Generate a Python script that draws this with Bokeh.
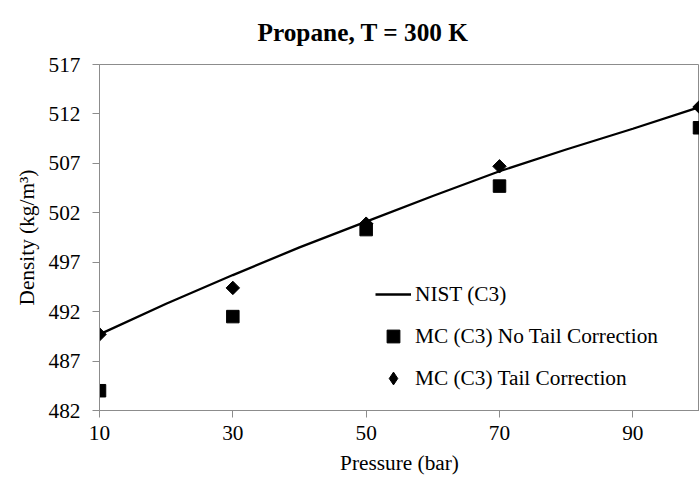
import numpy as np
from bokeh.plotting import figure
from bokeh.models import Range1d, FixedTicker, Legend, LegendItem
from bokeh.embed import file_html
from bokeh.resources import INLINE

# NIST reference curve (pressure in bar, density in kg/m3)
nist_p = [10, 20, 30, 40, 50, 60, 70, 80, 90, 100]
nist_rho = [489.7, 492.8, 495.7, 498.5, 501.1, 503.7, 506.2, 508.4, 510.5, 512.7]

# Monte Carlo results
mc_p = [10, 30, 50, 70, 100]
mc_no_tail = [484.0, 491.5, 500.3, 504.7, 510.6]
mc_tail = [489.7, 494.4, 500.9, 506.7, 512.7]

x_ticks = [10, 30, 50, 70, 90]
y_ticks = [482, 487, 492, 497, 502, 507, 512, 517]

TITLE = "Propane, T = 300 K"
FONT = "Liberation Serif"
GRAY = "#8c8c8c"
FS = "21.3px"

p = figure(width=699, height=478, output_backend="svg", toolbar_location=None,
           x_range=Range1d(10, 100), y_range=Range1d(482, 517),
           min_border_left=99, min_border_right=0, min_border_top=64, min_border_bottom=68)

p.title.text = TITLE
p.title.text_font = FONT
p.title.text_font_size = "25.3px"
p.title.text_font_style = "bold"
p.title.align = "left"
p.title.offset = 158
p.title.vertical_align = "top"
p.title.standoff = 34
p.title.text_color = "black"

p.xgrid.visible = False
p.ygrid.visible = False
p.outline_line_color = GRAY
p.outline_line_width = 1

for ax in (p.xaxis[0], p.yaxis[0]):
    ax.axis_line_color = GRAY
    ax.major_tick_line_color = GRAY
    ax.minor_tick_line_color = None
    ax.major_tick_in = 0
    ax.major_tick_out = 7
    ax.major_label_text_font = FONT
    ax.major_label_text_font_size = FS
    ax.major_label_text_color = "black"
    ax.axis_label_text_font = FONT
    ax.axis_label_text_font_size = FS
    ax.axis_label_text_font_style = "normal"
    ax.axis_label_text_color = "black"

p.xaxis[0].ticker = FixedTicker(ticks=x_ticks)
p.yaxis[0].ticker = FixedTicker(ticks=y_ticks)
p.xaxis[0].axis_label = "Pressure (bar)"
p.yaxis[0].axis_label = "Density (kg/m³)"
p.xaxis[0].major_label_standoff = 8
p.yaxis[0].major_label_standoff = 12
p.xaxis[0].axis_label_standoff = 8
p.yaxis[0].axis_label_standoff = 7

r_line = p.line(nist_p, nist_rho, line_color="black", line_width=2.3)
# diamond renderer supplies the legend swatch; it lies fully under the rotated squares
r_tail_key = p.scatter(mc_p, mc_tail, marker="diamond", size=12,
                       fill_color="black", line_color="black")
r_tail = p.scatter(mc_p, mc_tail, marker="square", angle=np.pi / 4, size=9.5,
                   fill_color="black", line_color="black")
r_no = p.scatter(mc_p, mc_no_tail, marker="square", size=12.5,
                 fill_color="black", line_color="black")

legend = Legend(items=[
    LegendItem(label="NIST (C3)", renderers=[r_line]),
    LegendItem(label="MC (C3) No Tail Correction", renderers=[r_no]),
    LegendItem(label="MC (C3) Tail Correction", renderers=[r_tail_key]),
], location=(276, 16))
legend.glyph_width = 36
legend.glyph_height = 32
legend.label_height = 32
legend.spacing = 10
legend.padding = 0
legend.margin = 0
legend.label_standoff = 4
legend.border_line_alpha = 0
legend.background_fill_alpha = 0
legend.label_text_font = FONT
legend.label_text_font_size = FS
legend.label_text_color = "black"
p.add_layout(legend, "center")

open("out.html", "w").write(file_html(p, INLINE))
